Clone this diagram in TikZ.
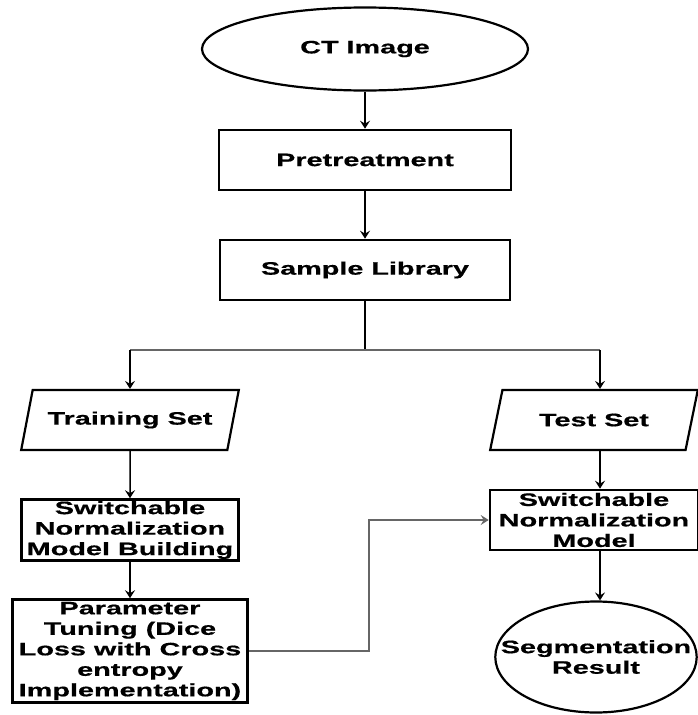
\documentclass[tikz,border=0pt]{standalone}
\usepackage{fontspec}
\setmainfont{Liberation Sans}[FakeStretch=1.6,BoldFeatures={FakeBold=0.6}]
\usetikzlibrary{shapes.geometric,arrows.meta}

\begin{document}
\begin{tikzpicture}[x=1pt,y=-1pt,>={Stealth[length=8pt,width=10pt,inset=3pt]},
  every node/.style={font=\bfseries\fontsize{18}{20.5}\selectfont,align=center,inner sep=0pt},
  box/.style={draw,rectangle,line width=2.6pt},
  oval/.style={draw,ellipse,line width=2.2pt},
  data/.style={draw,trapezium,trapezium left angle=60,trapezium right angle=120,trapezium stretches=true,line width=2.2pt},
  link/.style={->,line width=1.5pt},
  thinlink/.style={line width=1.1pt,draw=gray!80!black}]
\useasboundingbox (0,0) rectangle (698,715);

% main column
\node[oval,minimum width=326,minimum height=83] (ct) at (365,49) {CT Image};
\node[box,minimum width=292,minimum height=60] (pre) at (365,160) {Pretreatment};
\node[box,minimum width=290,minimum height=60] (lib) at (365,270) {Sample Library};

% left branch
\node[data,minimum width=218,minimum height=60] (train) at (130,420) {Training Set};
\node[box,minimum width=217,minimum height=61] (build) at (130,530) {Switchable\\Normalization\\Model Building};
\node[box,minimum width=235,minimum height=103] (tune) at (130,651) {Parameter\\Tuning (Dice\\Loss with Cross\\entropy\\Implementation)};

% right branch
\node[data,minimum width=208,minimum height=60] (test) at (594,420) {Test Set};
\node[box,minimum width=208,minimum height=60] (model) at (594,520) {Switchable\\Normalization\\Model};
\node[oval,inner xsep=-24pt,minimum width=200,minimum height=111] (seg) at (596,657) {Segmentation\\Result};

\coordinate (split) at (365,350);
\coordinate (tl) at (130,350);
\coordinate (tr) at (600,350);
\coordinate (turn) at (369,651);

\draw[link] (ct) -- (pre);
\draw[link] (pre) -- (lib);
\draw[line width=1.5pt] (lib) -- (split);
\draw[thinlink] (tl) -- (tr);
\draw[link] (tl) -- (tl |- train.north);
\draw[link] (tr) -- (tr |- test.north);
\draw[link] (train) -- (build);
\draw[link] (build) -- (tune);
\draw[link] (test.south -| tr) -- (model.north -| tr);
\draw[link] (model.south -| tr) -- (seg.north -| tr);
\draw[thinlink,->] (tune.east) -- (turn) |- (model.west);
\end{tikzpicture}
\end{document}
